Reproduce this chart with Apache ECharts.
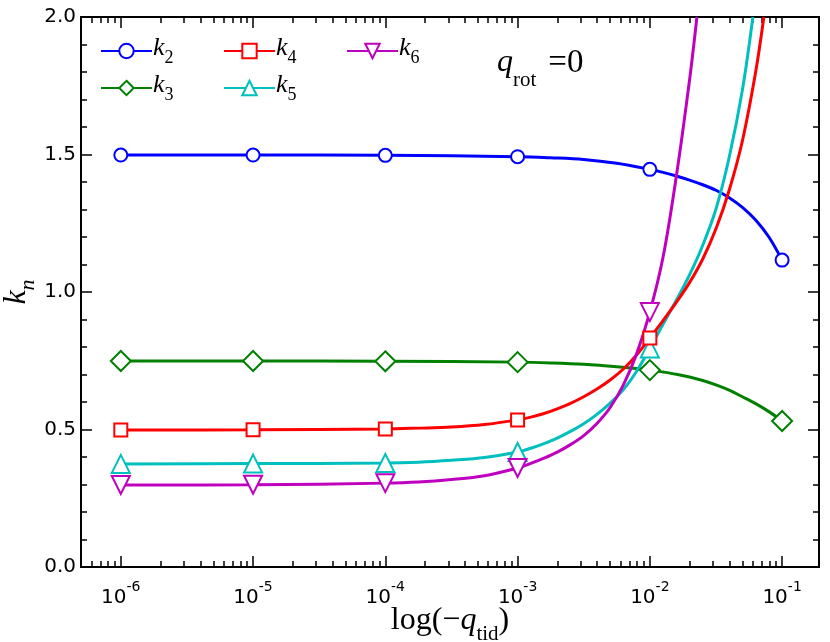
<!DOCTYPE html>
<html>
<head>
<meta charset="utf-8">
<script src="https://cdn.jsdelivr.net/npm/echarts@6/dist/echarts.min.js"></script>
<style>
  html, body { margin: 0; padding: 0; background: #fff; }
  #chart { width: 830px; height: 642px; }
</style>
</head>
<body>
<div id="chart"></div>
<script>
// x = log10(-q_tid); markers only on whole decades
const decades = [-6, -5, -4, -3, -2, -1];

const k2 = [[-6, 1.498], [-5, 1.498], [-4, 1.497], [-3, 1.492], [-2.75, 1.488], [-2.5, 1.482],
  [-2.25, 1.468], [-2, 1.446], [-1.9, 1.435], [-1.8, 1.422], [-1.7, 1.407], [-1.6, 1.39],
  [-1.5, 1.37], [-1.4, 1.343], [-1.3, 1.308], [-1.2, 1.262], [-1.1, 1.2], [-1, 1.116]];
const k3 = [[-6, 0.749], [-5, 0.749], [-4, 0.748], [-3, 0.745], [-2.75, 0.742], [-2.5, 0.737],
  [-2.25, 0.728], [-2, 0.716], [-1.9, 0.709], [-1.8, 0.701], [-1.7, 0.691], [-1.6, 0.678],
  [-1.5, 0.662], [-1.4, 0.643], [-1.3, 0.619], [-1.2, 0.594], [-1.1, 0.565], [-1, 0.531]];
const k4 = [[-6, 0.498], [-5, 0.499], [-4, 0.502], [-3.75, 0.505], [-3.5, 0.509], [-3.25, 0.518],
  [-3, 0.535], [-2.9, 0.545], [-2.8, 0.558], [-2.7, 0.575], [-2.6, 0.595], [-2.5, 0.619],
  [-2.4, 0.647], [-2.3, 0.68], [-2.2, 0.72], [-2.1, 0.771], [-2, 0.833], [-1.9, 0.896],
  [-1.8, 0.962], [-1.7, 1.034], [-1.6, 1.12], [-1.5, 1.23], [-1.4, 1.37], [-1.3, 1.55],
  [-1.2, 1.8], [-1.138, 2.0]];
const k5 = [[-6, 0.375], [-5, 0.376], [-4, 0.378], [-3.75, 0.381], [-3.5, 0.388], [-3.25, 0.398],
  [-3, 0.418], [-2.9, 0.432], [-2.8, 0.449], [-2.7, 0.469], [-2.6, 0.493], [-2.5, 0.521],
  [-2.4, 0.555], [-2.3, 0.596], [-2.2, 0.645], [-2.1, 0.712], [-2, 0.795], [-1.9, 0.883],
  [-1.8, 0.97], [-1.7, 1.062], [-1.6, 1.17], [-1.5, 1.302], [-1.4, 1.49], [-1.3, 1.735],
  [-1.221, 2.0]];
const k6 = [[-6, 0.298], [-5, 0.299], [-4, 0.305], [-3.75, 0.309], [-3.5, 0.318], [-3.25, 0.332],
  [-3, 0.36], [-2.9, 0.377], [-2.8, 0.396], [-2.7, 0.418], [-2.6, 0.445], [-2.5, 0.478],
  [-2.4, 0.522], [-2.3, 0.58], [-2.2, 0.662], [-2.1, 0.775], [-2, 0.927], [-1.9, 1.127],
  [-1.8, 1.42], [-1.7, 1.77], [-1.644, 2.0]];

const SERIF = "'Liberation Serif', 'DejaVu Serif', serif";
const SANS = "'DejaVu Sans', sans-serif";
const X_MIN = -6.301, X_MAX = -0.721;

// minor tick positions of the log axis (2..9 in every decade)
const minorX = [];
for (let d = -7; d <= -1; d++) {
  for (let m = 2; m <= 9; m++) {
    const v = d + Math.log10(m);
    if (v > X_MIN && v < X_MAX) minorX.push(v);
  }
}

function markPoints(pts) {
  return pts.map(p => decades.includes(p[0]) ? { value: p } : { value: p, symbol: 'none' });
}

function curve(name, pts, color, symbol, size, rotate) {
  return {
    name: name,
    type: 'line',
    data: markPoints(pts),
    smooth: 0.35,
    symbol: symbol,
    symbolSize: size,
    symbolRotate: rotate || 0,
    itemStyle: { color: color },
    lineStyle: { color: color, width: 3 },
    emphasis: { disabled: true }
  };
}

const tick = { color: '#000', width: 1.5 };
const line = { show: true, lineStyle: { color: '#000', width: 2 } };

function xAxis(pos, values, len, labels) {
  return {
    type: 'value', position: pos, min: X_MIN, max: X_MAX,
    axisLine: line,
    splitLine: { show: false },
    axisTick: { show: true, inside: true, length: len, customValues: values, lineStyle: tick },
    axisLabel: labels ? {
      show: true, customValues: decades, margin: 13,
      formatter: v => '{b|10}{s|' + Math.round(v) + '}',
      rich: {
        b: { fontFamily: SANS, fontSize: 20, color: '#000', lineHeight: 28, verticalAlign: 'bottom' },
        s: { fontFamily: SANS, fontSize: 14, color: '#000', lineHeight: 16, verticalAlign: 'top' }
      }
    } : { show: false }
  };
}

function yAxis(pos, labels) {
  return {
    type: 'value', position: pos, min: 0, max: 2, interval: 0.5,
    axisLine: line,
    splitLine: { show: false },
    axisTick: { show: true, inside: true, length: 11, lineStyle: tick },
    minorTick: { show: true, splitNumber: 5, length: 6, lineStyle: tick },
    axisLabel: labels ? {
      show: true, margin: 5, fontFamily: SANS, fontSize: 20, color: '#000',
      formatter: v => v.toFixed(1)
    } : { show: false }
  };
}

function legendLabel(name) {
  return '{i|k}{sub|' + name.slice(1) + '}';
}
const legendRich = {
  i: { fontFamily: SERIF, fontStyle: 'italic', fontSize: 26, color: '#000', lineHeight: 32,
    verticalAlign: 'top', padding: [0, 0, 0, -4] },
  sub: { fontFamily: SERIF, fontSize: 18, color: '#000', lineHeight: 18, verticalAlign: 'bottom' }
};
function legend(names, left) {
  return {
    data: names, orient: 'vertical', left: left, top: 35, padding: 0,
    itemWidth: 51, itemHeight: 18, itemGap: 5,
    selectedMode: false,
    formatter: legendLabel,
    textStyle: { rich: legendRich }
  };
}

const chart = echarts.init(document.getElementById('chart'), null, { renderer: 'canvas' });
chart.setOption({
  animation: false,
  backgroundColor: '#fff',
  grid: { left: 81, right: 11, top: 17, bottom: 75, containLabel: false, outerBoundsMode: 'none' },
  xAxis: [
    Object.assign(xAxis('bottom', decades, 11, true), {
      name: '{n|log(−}{q|q}{sub|tid}{n|)}',
      nameLocation: 'middle', nameGap: 38, nameMoveOverlap: false,
      nameTextStyle: {
        rich: {
          n: { fontFamily: SERIF, fontSize: 32, color: '#000', lineHeight: 40, verticalAlign: 'top' },
          q: { fontFamily: SERIF, fontStyle: 'italic', fontSize: 32, color: '#000', lineHeight: 40, verticalAlign: 'top' },
          sub: { fontFamily: SERIF, fontSize: 21, color: '#000', lineHeight: 26, verticalAlign: 'bottom' }
        }
      }
    }),
    xAxis('bottom', minorX, 6, false),
    xAxis('top', decades, 11, false),
    xAxis('top', minorX, 6, false)
  ],
  yAxis: [
    Object.assign(yAxis('left', true), {
      name: '{i|k}{sub|n}',
      nameLocation: 'middle', nameGap: 42, nameRotate: 90, nameMoveOverlap: false,
      nameTextStyle: {
        rich: {
          i: { fontFamily: SERIF, fontStyle: 'italic', fontSize: 32, color: '#000', lineHeight: 38, verticalAlign: 'top' },
          sub: { fontFamily: SERIF, fontStyle: 'italic', fontSize: 22, color: '#000', lineHeight: 24, verticalAlign: 'bottom' }
        }
      }
    }),
    yAxis('right', false)
  ],
  legend: [
    legend(['k2', 'k3'], 100),
    legend(['k4', 'k5'], 223),
    legend(['k6'], 346)
  ],
  graphic: [{
    type: 'text', left: 497, top: 47,
    style: {
      text: '{i|q}{sub|rot}{n|=0}',
      rich: {
        i: { fontFamily: SERIF, fontStyle: 'italic', fontSize: 32, fill: '#000', lineHeight: 44, verticalAlign: 'top' },
        sub: { fontFamily: SERIF, fontSize: 21, fill: '#000', lineHeight: 28, verticalAlign: 'bottom' },
        n: { fontFamily: SERIF, fontSize: 33, fill: '#000', lineHeight: 44, verticalAlign: 'top', padding: [0, 0, 0, 12] }
      }
    }
  }],
  series: [
    curve('k2', k2, '#0000ff', 'emptyCircle', 13),
    curve('k3', k3, '#008000', 'emptyDiamond', 20),
    curve('k5', k5, '#00bfbf', 'emptyTriangle', 18),
    curve('k4', k4, '#ff0000', 'emptyRect', 13),
    curve('k6', k6, '#bf00bf', 'emptyTriangle', 18, 180)
  ]
});
</script>
</body>
</html>
